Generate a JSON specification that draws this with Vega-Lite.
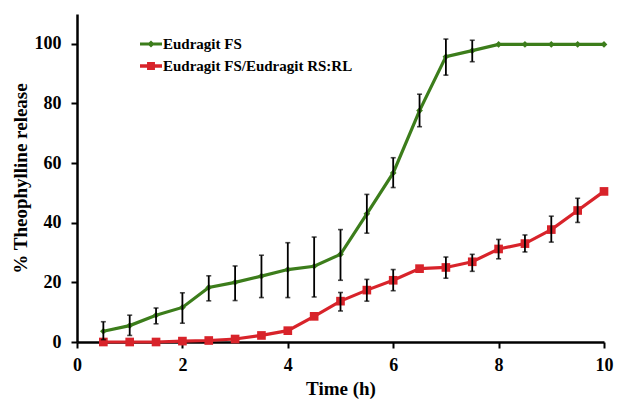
{
  "$schema": "https://vega.github.io/schema/vega-lite/v6.json",
  "width": 527,
  "height": 328,
  "autosize": "none",
  "padding": {"left": 77, "top": 14, "right": 13, "bottom": 60},
  "background": "white",
  "config": {
    "view": {"stroke": null},
    "font": "Liberation Serif"
  },
  "data": {
    "values": [
      {"series": "Eudragit FS", "t": 0.5, "y": 3.6, "lo": 0.8, "hi": 6.8},
      {"series": "Eudragit FS", "t": 1.0, "y": 5.5, "lo": 2.2, "hi": 9.0},
      {"series": "Eudragit FS", "t": 1.5, "y": 9.0, "lo": 6.1, "hi": 11.4},
      {"series": "Eudragit FS", "t": 2.0, "y": 11.6, "lo": 6.3, "hi": 16.5},
      {"series": "Eudragit FS", "t": 2.5, "y": 18.3, "lo": 13.8, "hi": 22.2},
      {"series": "Eudragit FS", "t": 3.0, "y": 20.0, "lo": 13.9, "hi": 25.5},
      {"series": "Eudragit FS", "t": 3.5, "y": 22.1, "lo": 14.9, "hi": 29.1},
      {"series": "Eudragit FS", "t": 4.0, "y": 24.3, "lo": 14.9, "hi": 33.3},
      {"series": "Eudragit FS", "t": 4.5, "y": 25.4, "lo": 15.1, "hi": 35.2},
      {"series": "Eudragit FS", "t": 5.0, "y": 29.4, "lo": 20.7, "hi": 37.7},
      {"series": "Eudragit FS", "t": 5.5, "y": 43.0, "lo": 36.5, "hi": 49.5},
      {"series": "Eudragit FS", "t": 6.0, "y": 56.7, "lo": 51.8, "hi": 61.8},
      {"series": "Eudragit FS", "t": 6.5, "y": 77.6, "lo": 72.2, "hi": 83.1},
      {"series": "Eudragit FS", "t": 7.0, "y": 95.7, "lo": 89.5, "hi": 101.6},
      {"series": "Eudragit FS", "t": 7.5, "y": 97.7, "lo": 94.0, "hi": 101.2},
      {"series": "Eudragit FS", "t": 8.0, "y": 99.8},
      {"series": "Eudragit FS", "t": 8.5, "y": 99.8},
      {"series": "Eudragit FS", "t": 9.0, "y": 99.8},
      {"series": "Eudragit FS", "t": 9.5, "y": 99.8},
      {"series": "Eudragit FS", "t": 10.0, "y": 99.8},
      {"series": "Eudragit FS/Eudragit RS:RL", "t": 0.5, "y": 0.0},
      {"series": "Eudragit FS/Eudragit RS:RL", "t": 1.0, "y": 0.0},
      {"series": "Eudragit FS/Eudragit RS:RL", "t": 1.5, "y": 0.0},
      {"series": "Eudragit FS/Eudragit RS:RL", "t": 2.0, "y": 0.3},
      {"series": "Eudragit FS/Eudragit RS:RL", "t": 2.5, "y": 0.5},
      {"series": "Eudragit FS/Eudragit RS:RL", "t": 3.0, "y": 1.0},
      {"series": "Eudragit FS/Eudragit RS:RL", "t": 3.5, "y": 2.2},
      {"series": "Eudragit FS/Eudragit RS:RL", "t": 4.0, "y": 3.8},
      {"series": "Eudragit FS/Eudragit RS:RL", "t": 4.5, "y": 8.6},
      {"series": "Eudragit FS/Eudragit RS:RL", "t": 5.0, "y": 13.7, "lo": 10.4, "hi": 16.6},
      {"series": "Eudragit FS/Eudragit RS:RL", "t": 5.5, "y": 17.4, "lo": 13.7, "hi": 21.0},
      {"series": "Eudragit FS/Eudragit RS:RL", "t": 6.0, "y": 20.7, "lo": 17.2, "hi": 24.3},
      {"series": "Eudragit FS/Eudragit RS:RL", "t": 6.5, "y": 24.6},
      {"series": "Eudragit FS/Eudragit RS:RL", "t": 7.0, "y": 25.0, "lo": 21.4, "hi": 28.5},
      {"series": "Eudragit FS/Eudragit RS:RL", "t": 7.5, "y": 26.9, "lo": 23.7, "hi": 29.4},
      {"series": "Eudragit FS/Eudragit RS:RL", "t": 8.0, "y": 31.2, "lo": 27.9, "hi": 34.4},
      {"series": "Eudragit FS/Eudragit RS:RL", "t": 8.5, "y": 33.0, "lo": 30.2, "hi": 35.9},
      {"series": "Eudragit FS/Eudragit RS:RL", "t": 9.0, "y": 37.7, "lo": 33.5, "hi": 42.2},
      {"series": "Eudragit FS/Eudragit RS:RL", "t": 9.5, "y": 44.1, "lo": 40.1, "hi": 48.2},
      {"series": "Eudragit FS/Eudragit RS:RL", "t": 10.0, "y": 50.5}
    ]
  },
  "encoding": {
    "x": {
      "field": "t", "type": "quantitative",
      "scale": {"domain": [0, 10], "nice": false, "zero": false},
      "axis": {
        "title": "Time (h)", "values": [0, 2, 4, 6, 8, 10], "grid": false,
        "domainColor": "black", "domainWidth": 2.5, "tickColor": "black", "tickWidth": 2, "tickSize": 6,
        "labelFont": "Liberation Serif", "labelFontWeight": "bold", "labelFontSize": 18, "labelColor": "black", "labelPadding": 8,
        "titleFont": "Liberation Serif", "titleFontWeight": "bold", "titleFontSize": 19, "titleColor": "black", "titlePadding": 5,
        "labelFlush": false
      }
    },
    "y": {
      "field": "y", "type": "quantitative",
      "scale": {"domain": [0, 110], "nice": false},
      "axis": {
        "title": "% Theophylline release", "values": [0, 20, 40, 60, 80, 100], "grid": false,
        "domainColor": "black", "domainWidth": 2.5, "tickColor": "black", "tickWidth": 2, "tickSize": 6,
        "labelFont": "Liberation Serif", "labelFontWeight": "bold", "labelFontSize": 18, "labelColor": "black", "labelPadding": 10,
        "titleFont": "Liberation Serif", "titleFontWeight": "bold", "titleFontSize": 19, "titleColor": "black", "titlePadding": 4
      }
    }
  },
  "layer": [
    {
      "mark": {"type": "line", "strokeWidth": 3.2},
      "encoding": {
        "color": {
          "field": "series", "type": "nominal",
          "scale": {"domain": ["Eudragit FS", "Eudragit FS/Eudragit RS:RL"], "range": ["#3c7d1b", "#d8232a"]},
          "legend": {
            "title": null, "orient": "none", "legendX": 63, "legendY": 19,
            "symbolType": "M-1,-0.13H-0.19L0,-0.32L0.19,-0.13H1V0.13H0.19L0,0.32L-0.19,0.13H-1Z",
            "symbolSize": 484, "symbolStrokeWidth": 0, "rowPadding": 3, "labelOffset": 1,
            "labelFont": "Liberation Serif", "labelFontWeight": "bold", "labelFontSize": 15, "labelColor": "black", "labelLimit": 400,
            "encode": {
              "symbols": {
                "update": {
                  "fill": {"scale": "color", "field": "value"},
                  "strokeWidth": {"value": 0},
                  "size": {"value": 484},
                  "shape": {"signal": "datum.value === 'Eudragit FS' ? 'M-1,-0.13H-0.19L0,-0.32L0.19,-0.13H1V0.13H0.19L0,0.32L-0.19,0.13H-1Z' : 'M-1,-0.15H-0.36V-0.36H0.36V-0.15H1V0.15H0.36V0.36H-0.36V0.15H-1Z'"}
                }
              }
            }
          }
        }
      }
    },
    {
      "transform": [{"filter": "datum.series === 'Eudragit FS'"}],
      "mark": {"type": "point", "filled": true, "opacity": 1, "shape": "diamond", "size": 45},
      "encoding": {
        "color": {"field": "series", "type": "nominal", "legend": null}
      }
    },
    {
      "transform": [{"filter": "datum.series !== 'Eudragit FS'"}],
      "mark": {"type": "point", "filled": true, "opacity": 1, "shape": "square", "size": 75},
      "encoding": {
        "color": {"field": "series", "type": "nominal", "legend": null}
      }
    },
    {
      "transform": [{"filter": "isValid(datum.lo)"}],
      "mark": {"type": "rule", "color": "black", "strokeWidth": 1.8},
      "encoding": {
        "y": {"field": "lo", "type": "quantitative"},
        "y2": {"field": "hi"}
      }
    },
    {
      "transform": [{"filter": "isValid(datum.lo)"}],
      "mark": {"type": "tick", "color": "black", "thickness": 1.6, "size": 5, "orient": "horizontal"},
      "encoding": {"y": {"field": "lo", "type": "quantitative"}}
    },
    {
      "transform": [{"filter": "isValid(datum.hi)"}],
      "mark": {"type": "tick", "color": "black", "thickness": 1.6, "size": 5, "orient": "horizontal"},
      "encoding": {"y": {"field": "hi", "type": "quantitative"}}
    }
  ]
}
